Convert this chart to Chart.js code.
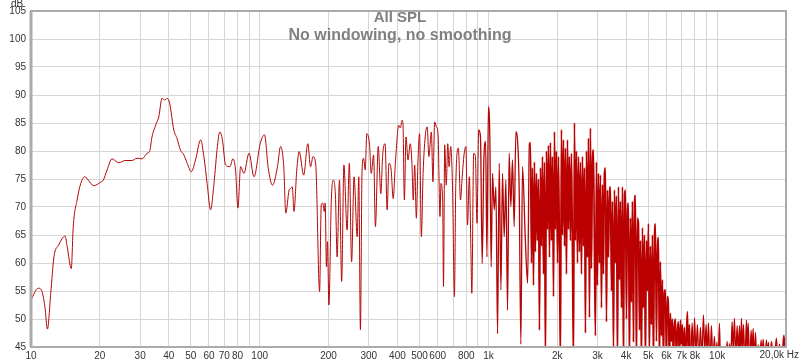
<!DOCTYPE html>
<html>
<head>
<meta charset="utf-8">
<title>All SPL</title>
<script src="https://cdn.jsdelivr.net/npm/chart.js@4/dist/chart.umd.min.js"></script>
<style>
    html, body { margin: 0; padding: 0; background: #fff; }
    #wrap { width: 800px; height: 363px; position: relative; }
</style>
</head>
<body>
<div id="wrap"><canvas id="splChart"></canvas></div>
<script>
// --- DATA ---
const chartTitle = 'All SPL';
const chartSubtitle = 'No windowing, no smoothing';

// frequency (Hz) of each trace point
const freqHz = [
    10, 10.75, 11.1, 11.5, 11.8, 12.2, 12.6, 13.2, 13.9, 14.1, 14.4, 15.0, 15.3, 15.9, 16.5, 17.2, 17.8, 18.8,
    20.1, 20.7, 21.5, 22.6, 24.2, 25.8, 27.6, 29.1, 30.6, 32.2, 33.0, 33.8, 35.3, 36.2, 37.4, 38.4, 39.4, 40.4,
    42.1, 43.5, 45.0, 46.6, 48.2, 50.2, 52.4, 55.2, 57.0, 58.9, 61.0, 63.1, 65.3, 66.9, 68.7, 70.9, 74.1, 76.3,
    78.4, 80.3, 82.5, 85.3, 89.8, 94.4, 100.5, 104.9, 109.0, 113.7, 119.6, 123.3,
    127.4, 130.0, 134.4, 136.2, 138.8, 141.2, 145.2, 148.8, 155.7, 162.3, 166.8, 171.1, 175.8, 182.7, 185.8,
    188.8, 191.5, 193.3, 195.8, 197.8, 200.7, 205.6, 209.6, 214.4, 218.0, 223.2, 228.2, 233.4, 241.0, 246.5,
    252.2, 258.5, 266.9, 271.1, 275.6, 280.2, 284.5, 289.2, 294.0, 302.1, 307.3, 314.7, 320.5, 329.8, 338.5,
    344.8, 353.4, 360.7, 367.4, 375.6, 383.2, 392.6, 405.4, 412, 419, 423, 429, 436, 445, 455, 463, 469, 476,
    484, 492, 500, 509, 518, 529, 540, 549, 563, 572, 582, 592, 602, 614, 620, 631, 636, 644, 654, 664, 673,
    684, 697, 710, 720, 739, 755, 768, 782, 797, 810, 825, 838, 846, 862, 877, 891, 907, 923, 939, 955, 972,
    985, 1000, 1014, 1028, 1042, 1060, 1078, 1096, 1115, 1134, 1152, 1172, 1192, 1212, 1232, 1253, 1274,
    1296, 1318, 1340, 1363, 1386, 1409, 1450, 1484, 1510,
    1526, 1542, 1558, 1574, 1589, 1605, 1622, 1638, 1655, 1671,
    1688, 1705, 1723, 1740, 1758, 1775, 1793, 1812, 1830, 1849,
    1867, 1886, 1905, 1925, 1944, 1963, 1983, 2004, 2024, 2044,
    2064, 2085, 2107, 2128, 2150, 2171, 2193, 2216, 2238, 2261,
    2283, 2307, 2330, 2354, 2377, 2401, 2426, 2451, 2475, 2500,
    2525, 2551, 2577, 2603, 2629, 2655, 2682, 2710, 2737, 2765,
    2792, 2821, 2850, 2878, 2907, 2936, 2966, 2996, 3027, 3057,
    3088, 3120, 3152, 3184, 3215, 3247, 3281, 3314, 3348, 3381,
    3415, 3450, 3485, 3521, 3556, 3591, 3628, 3665, 3702, 3739,
    3776, 3815, 3854, 3893, 3932, 3971, 4012, 4053, 4094, 4135,
    4176, 4219, 4262, 4305, 4349, 4392, 4437, 4482, 4528, 4573,
    4618, 4666, 4714, 4762, 4810, 4857, 4907, 4957, 5007, 5057,
    5107, 5160, 5212, 5265, 5318, 5371, 5426, 5482, 5537, 5593,
    5648, 5706, 5765, 5823, 5882, 5940, 6001, 6062, 6124, 6185,
    6246, 6311, 6375, 6440, 6504, 6569, 6637, 6705, 6772, 6840,
    6908, 6979, 7050, 7122, 7193, 7264, 7339, 7414, 7489, 7564,
    7639, 7776, 7870, 7960, 8080, 8200, 8320, 8450, 8580, 8710, 8830, 8950, 9050, 9160, 9300, 9440, 9580,
    9730, 9850, 9980, 10100, 10230, 10350, 10900, 11060, 11190, 11320, 11470, 11630, 11760, 11900, 12060,
    12230, 12380, 12520, 12640, 12770, 12900, 13030, 13230, 13430, 13540, 13660, 13870, 14080, 14220, 14370,
    14540, 14710, 14900, 15110, 15340, 15570, 15730, 15890, 16150, 16430, 16600, 16760, 17000, 17270, 17700,
    18160, 18450, 18730, 19100, 19550, 19700, 19890, 20000
];

// SPL (dB) at each frequency above
const splDb = [
    53.4, 55.5, 55.2, 52.2, 48.2, 54.6, 61.1, 63.2, 64.7, 64.8, 62.9, 59.0, 66.5, 71.25, 74.2, 75.4, 74.8, 73.8,
    74.4, 74.8, 76.6, 78.6, 77.9, 78.3, 78.3, 78.7, 78.6, 79.6, 79.9, 82.5, 84.9, 86.1, 89.4, 89.1, 89.4, 88.5,
    83.75, 82.25, 80.2, 79.3, 77.8, 76.3, 78.4, 82.0, 79.0, 74.2, 69.5, 74.2, 80.8, 83.4, 82.0, 77.5, 77.2, 78.6,
    76.6, 69.8, 77.2, 76.0, 79.6, 75.4, 81.3, 82.9, 76.9, 73.9, 77.2, 80.8,
    77.2, 68.9, 73.0, 73.3, 73.6, 69.2, 76.6, 79.9, 75.7, 81.3, 77.2, 79.0, 77.5, 54.9, 70.4,
    70.7, 69.2, 70.7, 59.3, 63.8, 52.5, 71.25, 74.8, 71.8, 61.1, 74.8, 56.7, 77.5, 65.9, 77.8,
    60.2, 75.4, 64.7, 75.4, 48.1, 76.6, 78.7, 76.6, 83.1, 81.1, 76.0, 79.3, 66.5, 80.8, 72.4,
    79.3, 81.3, 69.5, 77.8, 76.6, 71.5, 78.4, 84.6, 84.1, 85.5, 84.9, 71.25, 82.5, 78.4, 81.3, 77.8, 71.25, 77.5,
    68.0, 78.2, 83.1, 64.7, 76.0, 82.5, 84.3, 79.0, 83.4, 74.5, 85.2, 84.3, 83.1, 68.3, 74.2, 71.0, 55.8, 81.1, 73.9, 81.3, 77.2,
    80.8, 73.0, 54.0, 74.2, 80.5, 71.25, 75.4, 79.3, 80.8, 66.8, 75.4, 62.6, 54.6, 79.6, 79.0, 67.1, 83.75, 82.5, 59.9, 78.4, 81.7,
    61.1, 87.9, 82.5, 59.3, 76.0, 69.5, 73.6, 47.4, 77.8, 55.2, 76.0, 64.7, 74.8, 51.6, 79.6, 70.1, 78.4,
    66.5, 83.4, 82.0, 73.0, 45.5, 77.2, 64.1, 56.4, 81.3,
    81.5, 60, 77, 56, 78, 62, 76, 64, 75, 48,
    77, 63, 79, 58, 78, 42, 80, 66, 81, 61,
    81.5, 64, 79, 54, 83.4, 66, 80, 60, 79, 62,
    42, 83.8, 65, 82, 63, 80.5, 58, 82, 66, 79,
    64, 79.6, 62, 42, 85, 64, 80, 60, 79, 62,
    78, 58, 79, 63, 77, 47.5, 80, 61, 82.3, 50.3,
    84.1, 59, 78, 80.2, 62, 47, 78, 56, 76, 60,
    75.7, 52, 74, 58, 76, 77, 49.5, 73, 61, 72,
    73.6, 55, 71, 44, 73, 60, 72, 42, 73.6, 57,
    71, 52, 73.6, 42, 72, 73, 50, 69, 70.7, 42,
    68, 53, 71, 46, 70, 72.1, 42, 68, 67, 48,
    64, 42, 66.3, 52, 65, 42, 64, 55, 67, 44,
    63, 49, 65, 42, 64, 67, 46, 62, 64.6, 42,
    60.2, 47, 57, 42, 55, 55.2, 42, 54, 52, 42,
    51, 46, 50, 42, 49, 50, 42, 48, 49.5, 42,
    49.8, 45.5, 49, 42, 48.5, 42, 47, 51.3, 42, 49,
    42, 49.3, 42, 50.2, 44, 49, 42, 48.5, 43, 50.7, 44, 49, 43, 49.3, 42, 48.8, 42,
    46.9, 42, 45.8, 42, 49.2, 42, 42, 46, 42, 45.6, 43, 49.5, 44, 50.1, 43,
    48.8, 43.5, 48.8, 43, 50.1, 44, 49, 42, 49.8, 44, 49.3, 42, 48, 44, 48.3,
    42, 47.6, 42, 45.4, 42, 46.25, 43, 46.4, 42, 46.25, 43, 45.8, 42, 46, 42,
    46.6, 42, 45.5, 42, 47.1, 44, 47.4, 45
];

// x grid lines and their labels ('' = grid line only)
const xTickValues = [10, 20, 30, 40, 50, 60, 70, 80, 90, 100, 200, 300, 400, 500, 600, 700, 800, 900,
    1000, 2000, 3000, 4000, 5000, 6000, 7000, 8000, 9000, 10000, 20000];
const xTickText = ['10', '20', '30', '40', '50', '60', '70', '80', '', '100', '200', '300', '400', '500', '600', '', '800', '',
    '1k', '2k', '3k', '4k', '5k', '6k', '7k', '8k', '', '10k', ''];
const xLastLabel = '20,0k Hz';
const yUnit = 'dB';

const FONT = '"Liberation Sans", Arial, sans-serif';

// frame, titles and the unit labels drawn on top
const overlayPlugin = {
    id: 'overlay',
    afterDraw(chart) {
        const { ctx, chartArea: a } = chart;
        ctx.save();
        ctx.strokeStyle = '#ababab';
        ctx.lineWidth = 2;
        ctx.strokeRect(a.left, a.top, a.right - a.left, a.bottom - a.top);
        ctx.lineWidth = 3;
        ctx.beginPath();
        ctx.moveTo(a.left, a.top);
        ctx.lineTo(a.left, a.bottom);
        ctx.stroke();

        ctx.fillStyle = '#808080';
        ctx.textAlign = 'center';
        ctx.textBaseline = 'middle';
        ctx.font = 'bold 15px ' + FONT;
        ctx.fillText(chartTitle, 400, 18);
        ctx.font = 'bold 16px ' + FONT;
        ctx.fillText(chartSubtitle, 400, 36);

        ctx.fillStyle = '#333';
        ctx.font = '10px ' + FONT;
        ctx.fillText(yUnit, 17, 4);
        ctx.textAlign = 'right';
        ctx.fillText(xLastLabel, 799, 355);
        ctx.restore();
    }
};

const points = freqHz.map((f, i) => ({ x: f, y: splDb[i] }));

// the measured trace gets visually denser above ~1 kHz
const segWidth = c => {
    const x = c.p0.parsed.x;
    if (x >= 1500 && x < 7600) return 1.7;
    if (x >= 900) return 1.3;
    return 1;
};

new Chart(document.getElementById('splChart'), {
    type: 'line',
    data: {
        datasets: [{
            data: points,
            borderColor: 'rgb(180, 6, 6)',
            borderWidth: 1,
            pointRadius: 0,
            cubicInterpolationMode: 'monotone',
            fill: false,
            segment: {
                borderWidth: segWidth,
                borderColor: c => c.p0.parsed.x >= 1500 ? 'rgb(186, 0, 0)' : 'rgb(180, 6, 6)'
            }
        }]
    },
    options: {
        responsive: true,
        maintainAspectRatio: false,
        animation: false,
        layout: { padding: { top: 10, right: 14, left: 0, bottom: 0 } },
        plugins: { legend: { display: false }, tooltip: { enabled: false } },
        scales: {
            x: {
                type: 'logarithmic',
                min: 10,
                max: 20000,
                afterBuildTicks: s => { s.ticks = xTickValues.map(v => ({ value: v })); },
                afterFit: s => { s.height = 16; },
                grid: { color: '#d6d6d6', drawTicks: false },
                border: { display: false },
                ticks: {
                    autoSkip: false,
                    maxRotation: 0,
                    padding: 3,
                    color: '#333',
                    font: { family: FONT, size: 10 },
                    callback: v => {
                        const i = xTickValues.indexOf(v);
                        return i < 0 ? '' : xTickText[i];
                    }
                }
            },
            y: {
                min: 45,
                max: 105,
                afterFit: s => { s.width = 31; },
                grid: { color: '#d6d6d6', drawTicks: false },
                border: { display: false },
                ticks: {
                    stepSize: 5,
                    padding: 5,
                    color: '#333',
                    font: { family: FONT, size: 10 }
                }
            }
        }
    },
    plugins: [overlayPlugin]
});
</script>
</body>
</html>
